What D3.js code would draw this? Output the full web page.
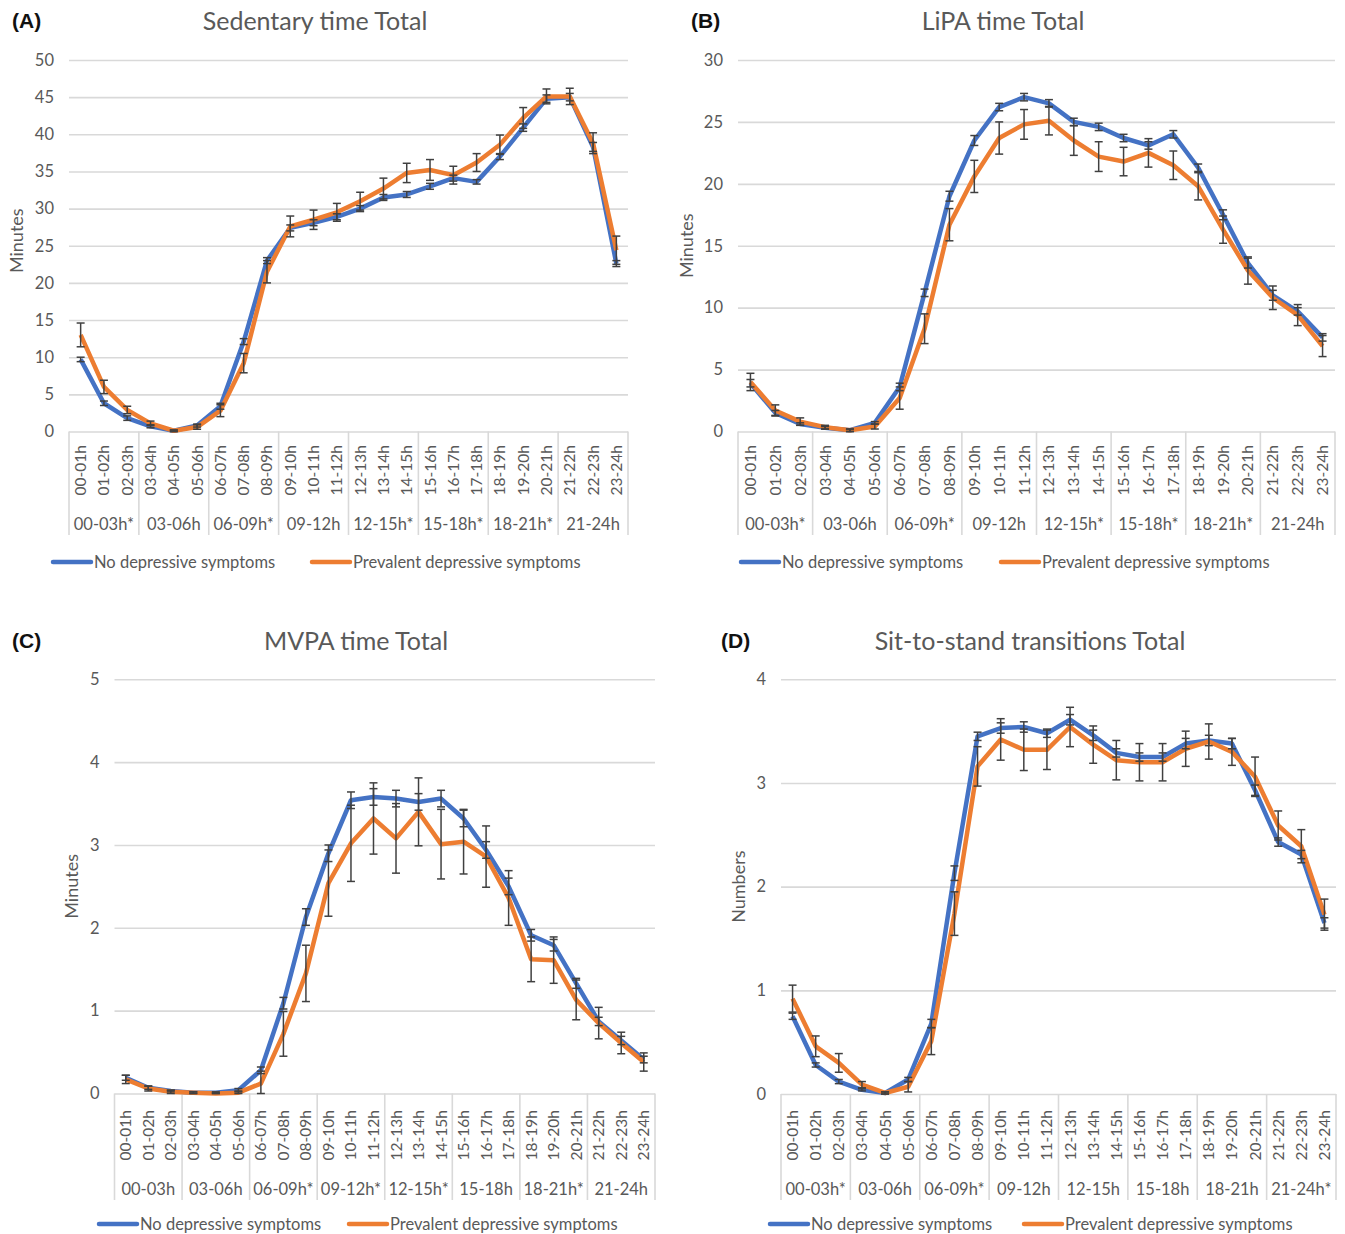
<!DOCTYPE html>
<meta charset="utf-8">
<script src="https://d3js.org/d3.v7.min.js"></script>
<body style="margin:0;background:#fff">
<div id="chart"></div>
<script>
// hour categories (shared by all four panels)
var hours = ["00-01h", "01-02h", "02-03h", "03-04h", "04-05h", "05-06h", "06-07h", "07-08h",
    "08-09h", "09-10h", "10-11h", "11-12h", "12-13h", "13-14h", "14-15h", "15-16h", "16-17h",
    "17-18h", "18-19h", "19-20h", "20-21h", "21-22h", "22-23h", "23-24h"];

var seriesNames = ["No depressive symptoms", "Prevalent depressive symptoms"];

// (A) sedentary time
var sedGroups = ["00-03h*", "03-06h", "06-09h*", "09-12h", "12-15h*", "15-18h*", "18-21h*", "21-24h"];
var sedNo = [9.7, 3.8, 1.8, 0.7, 0.1, 0.8, 3.4, 12.1, 23.0, 27.4, 28.1, 28.9, 30.0, 31.5, 31.9, 33.0, 34.1, 33.6, 37.0, 40.9, 44.8, 45.0, 38.3, 22.6];
var sedNoErr = [0.3, 0.3, 0.3, 0.2, 0.1, 0.2, 0.4, 0.4, 0.4, 0.4, 0.4, 0.4, 0.4, 0.4, 0.4, 0.4, 0.4, 0.3, 0.4, 0.5, 0.5, 0.5, 0.6, 0.4];
var sedDep = [13.0, 6.0, 2.9, 1.1, 0.1, 0.6, 2.8, 9.2, 21.5, 27.6, 28.5, 29.5, 31.0, 32.7, 34.8, 35.2, 34.5, 36.2, 38.6, 42.2, 45.1, 45.1, 38.8, 24.4];
var sedDepErr = [1.6, 0.9, 0.5, 0.3, 0.1, 0.3, 0.8, 1.3, 1.5, 1.4, 1.3, 1.2, 1.2, 1.4, 1.3, 1.4, 1.2, 1.2, 1.3, 1.4, 1.0, 1.1, 1.4, 1.9];

// (B) LiPA time
var lipaGroups = ["00-03h*", "03-06h", "06-09h*", "09-12h", "12-15h*", "15-18h*", "18-21h*", "21-24h"];
var lipaNo = [3.9, 1.5, 0.6, 0.3, 0.1, 0.7, 3.6, 11.2, 19.0, 23.5, 26.2, 27.0, 26.5, 25.0, 24.6, 23.7, 23.1, 24.0, 21.3, 17.5, 13.6, 11.0, 9.7, 7.6];
var lipaNoErr = [0.3, 0.2, 0.1, 0.1, 0.1, 0.1, 0.3, 0.3, 0.4, 0.4, 0.3, 0.3, 0.3, 0.3, 0.3, 0.3, 0.3, 0.3, 0.3, 0.4, 0.4, 0.4, 0.3, 0.3];
var lipaDep = [4.0, 1.7, 0.8, 0.35, 0.1, 0.4, 2.7, 8.3, 16.7, 20.6, 23.7, 24.8, 25.1, 23.5, 22.2, 21.8, 22.5, 21.5, 19.8, 16.3, 13.0, 10.8, 9.4, 6.9];
var lipaDepErr = [0.7, 0.45, 0.3, 0.15, 0.1, 0.2, 0.9, 1.2, 1.3, 1.3, 1.3, 1.2, 1.15, 1.2, 1.2, 1.15, 1.15, 1.15, 1.1, 1.1, 1.1, 0.95, 0.85, 0.85];

// (C) MVPA time
var mvpaGroups = ["00-03h", "03-06h", "06-09h*", "09-12h*", "12-15h*", "15-18h", "18-21h*", "21-24h"];
var mvpaNo = [0.19, 0.07, 0.03, 0.01, 0.01, 0.04, 0.28, 1.09, 2.13, 2.90, 3.54, 3.58, 3.56, 3.52, 3.56, 3.32, 2.94, 2.50, 1.91, 1.79, 1.33, 0.87, 0.64, 0.41];
var mvpaNoErr = [0.03, 0.02, 0.01, 0.01, 0.01, 0.02, 0.04, 0.07, 0.1, 0.1, 0.1, 0.1, 0.1, 0.1, 0.1, 0.1, 0.1, 0.1, 0.07, 0.07, 0.06, 0.05, 0.05, 0.04];
var mvpaDep = [0.17, 0.06, 0.02, 0.01, 0.0, 0.01, 0.12, 0.72, 1.45, 2.54, 3.02, 3.32, 3.08, 3.40, 3.01, 3.04, 2.86, 2.36, 1.62, 1.61, 1.13, 0.85, 0.61, 0.38];
var mvpaDepErr = [0.05, 0.03, 0.02, 0.01, 0.01, 0.02, 0.15, 0.27, 0.34, 0.40, 0.46, 0.43, 0.42, 0.41, 0.42, 0.39, 0.37, 0.33, 0.27, 0.28, 0.24, 0.19, 0.13, 0.11];

// (D) sit-to-stand transitions
var stsGroups = ["00-03h*", "03-06h", "06-09h*", "09-12h", "12-15h", "15-18h", "18-21h", "21-24h*"];
var stsNo = [0.75, 0.28, 0.12, 0.04, 0.01, 0.14, 0.68, 2.13, 3.45, 3.53, 3.54, 3.48, 3.61, 3.46, 3.29, 3.25, 3.25, 3.38, 3.41, 3.38, 2.93, 2.43, 2.31, 1.65];
var stsNoErr = [0.03, 0.02, 0.02, 0.01, 0.01, 0.02, 0.04, 0.07, 0.04, 0.05, 0.05, 0.04, 0.05, 0.05, 0.04, 0.04, 0.04, 0.05, 0.05, 0.05, 0.05, 0.04, 0.04, 0.05];
var stsDep = [0.92, 0.46, 0.30, 0.09, 0.01, 0.07, 0.51, 1.74, 3.16, 3.42, 3.32, 3.32, 3.54, 3.37, 3.22, 3.20, 3.20, 3.33, 3.40, 3.30, 3.06, 2.59, 2.39, 1.73];
var stsDepErr = [0.13, 0.10, 0.09, 0.03, 0.01, 0.05, 0.13, 0.21, 0.19, 0.20, 0.20, 0.19, 0.19, 0.18, 0.19, 0.18, 0.18, 0.17, 0.17, 0.13, 0.19, 0.14, 0.16, 0.15];

var blue = "#4472C4", orange = "#ED7D31", textGray = "#595959", gridGray = "#d9d9d9";
var font = "Lato, 'Open Sans', sans-serif";

var svg = d3.select("#chart")
    .append("svg")
    .attr("width", 1345)
    .attr("height", 1234)
    .style("font-family", font);

function drawPanel(p) {
    var g = svg.append("g");

    var x = d3.scaleBand()
        .domain(hours)
        .range([p.left, p.right]);
    var y = d3.scaleLinear()
        .domain([0, p.ymax])
        .range([p.bottom, p.top]);
    var bw = x.bandwidth();

    // gridlines + tick labels
    var yAxis = g.append("g")
        .attr("transform", "translate(" + p.left + ",0)")
        .call(d3.axisLeft(y)
            .tickValues(d3.range(0, p.ymax + p.step / 2, p.step))
            .tickFormat(d3.format("~g"))
            .tickSize(-(p.right - p.left))
            .tickPadding(15));
    yAxis.select(".domain").remove();
    yAxis.selectAll(".tick line").attr("stroke", gridGray).attr("stroke-width", 1.6);
    yAxis.selectAll(".tick text")
        .attr("fill", textGray)
        .style("font-size", "16.5px")
        .style("font-family", font);

    // category box: separators between 3-hour groups
    var bounds = d3.range(0, 24, 3).map(function(i) { return x(hours[i]); }).concat([p.right]);
    g.selectAll(".sep")
        .data(bounds)
        .enter().append("line")
        .attr("x1", function(d) { return d; })
        .attr("x2", function(d) { return d; })
        .attr("y1", p.bottom)
        .attr("y2", p.boxBottom)
        .attr("stroke", gridGray)
        .attr("stroke-width", 1.6);

    // hour labels (rotated)
    g.selectAll(".hour")
        .data(hours)
        .enter().append("text")
        .attr("transform", function(d) {
            return "translate(" + (x(d) + bw / 2 + 5.5) + "," + p.catTop + ") rotate(-90)";
        })
        .attr("text-anchor", "end")
        .attr("fill", textGray)
        .style("font-size", "15.5px")
        .text(function(d) { return d; });

    // group labels
    g.selectAll(".grp")
        .data(p.groups)
        .enter().append("text")
        .attr("x", function(d, i) { return x(hours[i * 3]) + bw * 1.5; })
        .attr("y", p.groupY)
        .attr("dy", "0.35em")
        .attr("text-anchor", "middle")
        .attr("fill", textGray)
        .style("font-size", "16.5px")
        .text(function(d) { return d; });

    // lines
    var line = d3.line()
        .x(function(d, i) { return x(hours[i]) + bw / 2; })
        .y(function(d) { return y(d); });

    var series = [
        { values: p.no, err: p.noErr, color: blue },
        { values: p.dep, err: p.depErr, color: orange }
    ];

    series.forEach(function(s) {
        g.append("path")
            .datum(s.values)
            .attr("fill", "none")
            .attr("stroke", s.color)
            .attr("stroke-width", 4.5)
            .attr("stroke-linejoin", "round")
            .attr("d", line);
    });

    // error bars on top
    series.forEach(function(s) {
        var eb = g.append("g").attr("stroke", "#404040").attr("stroke-width", 1.5);
        s.values.forEach(function(v, i) {
            var cx = x(hours[i]) + bw / 2;
            var lo = y(Math.max(0, v - s.err[i])), hi = y(v + s.err[i]);
            eb.append("line").attr("x1", cx).attr("x2", cx).attr("y1", lo).attr("y2", hi);
            eb.append("line").attr("x1", cx - 4).attr("x2", cx + 4).attr("y1", lo).attr("y2", lo);
            eb.append("line").attr("x1", cx - 4).attr("x2", cx + 4).attr("y1", hi).attr("y2", hi);
        });
    });

    // title
    g.append("text")
        .attr("x", p.titleX)
        .attr("y", p.titleY)
        .attr("dy", "0.35em")
        .attr("text-anchor", "middle")
        .attr("fill", textGray)
        .style("font-size", "25px")
        .text(p.title);

    // panel letter
    g.append("text")
        .attr("x", p.letterX)
        .attr("y", p.titleY)
        .attr("dy", "0.35em")
        .attr("fill", "#111")
        .style("font-family", "'Liberation Sans', Arial, sans-serif")
        .style("font-weight", "bold")
        .style("font-size", "21px")
        .text(p.letter);

    // y axis title
    g.append("text")
        .attr("transform", "translate(" + p.yTitleX + "," + ((p.top + p.bottom) / 2 + p.yTitleDy) + ") rotate(-90)")
        .attr("dy", "0.35em")
        .attr("text-anchor", "middle")
        .attr("fill", textGray)
        .style("font-size", "18px")
        .text(p.yTitle);

    // legend
    [blue, orange].forEach(function(c, i) {
        var lx = p.legendX[i];
        g.append("line")
            .attr("x1", lx + 2).attr("x2", lx + 40)
            .attr("y1", p.legendY).attr("y2", p.legendY)
            .attr("stroke", c)
            .attr("stroke-width", 4.5)
            .attr("stroke-linecap", "round");
        g.append("text")
            .attr("x", lx + 43)
            .attr("y", p.legendY)
            .attr("dy", "0.35em")
            .attr("fill", textGray)
            .style("font-size", "16.5px")
            .text(seriesNames[i]);
    });
}

drawPanel({
    letter: "(A)", title: "Sedentary time Total", yTitle: "Minutes", yTitleDy: -5,
    groups: sedGroups, no: sedNo, noErr: sedNoErr, dep: sedDep, depErr: sedDepErr,
    ymax: 50, step: 5,
    left: 69, right: 628, top: 60, bottom: 431.5,
    catTop: 445, groupY: 524, boxBottom: 535,
    titleX: 315, titleY: 21, letterX: 12, yTitleX: 17,
    legendX: [51, 310], legendY: 562
});

drawPanel({
    letter: "(B)", title: "LiPA time Total", yTitle: "Minutes", yTitleDy: 0,
    groups: lipaGroups, no: lipaNo, noErr: lipaNoErr, dep: lipaDep, depErr: lipaDepErr,
    ymax: 30, step: 5,
    left: 738, right: 1335, top: 60, bottom: 431.5,
    catTop: 445, groupY: 524, boxBottom: 535,
    titleX: 1003, titleY: 21, letterX: 691, yTitleX: 687,
    legendX: [739, 999], legendY: 562
});

drawPanel({
    letter: "(C)", title: "MVPA time Total", yTitle: "Minutes", yTitleDy: 0,
    groups: mvpaGroups, no: mvpaNo, noErr: mvpaNoErr, dep: mvpaDep, depErr: mvpaDepErr,
    ymax: 5, step: 1,
    left: 114.5, right: 655, top: 679.3, bottom: 1093.5,
    catTop: 1110, groupY: 1189, boxBottom: 1200,
    titleX: 356, titleY: 641, letterX: 12, yTitleX: 72,
    legendX: [97, 347], legendY: 1224
});

drawPanel({
    letter: "(D)", title: "Sit-to-stand transitions Total", yTitle: "Numbers", yTitleDy: 0,
    groups: stsGroups, no: stsNo, noErr: stsNoErr, dep: stsDep, depErr: stsDepErr,
    ymax: 4, step: 1,
    left: 781, right: 1336, top: 679.3, bottom: 1094,
    catTop: 1110, groupY: 1189, boxBottom: 1200,
    titleX: 1030, titleY: 641, letterX: 721, yTitleX: 739,
    legendX: [768, 1022], legendY: 1224
});
</script>
</body>
